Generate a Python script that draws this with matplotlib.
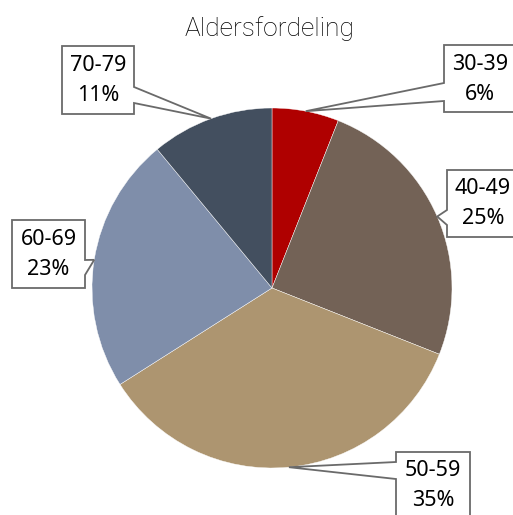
import numpy as np
import matplotlib.pyplot as plt
from matplotlib.patches import Polygon

categories = ["30-39", "40-49", "50-59", "60-69", "70-79"]
shares = [6, 25, 35, 23, 11]
colors = ["#af0000", "#736256", "#ad9570", "#7f8eaa", "#434f5f"]
title = "Aldersfordeling"

W, H = 513, 515
cx, cy, R = 272, 288, 180

# callout boxes in pixel coords: (x0, y0, x1, y1, side, base1, base2)
boxes = [
    (444, 45, 516, 112, "left", 83, 101),
    (447, 170, 519, 237, "left", 210, 225),
    (396, 452, 470, 519, "left", 462, 479),
    (12, 220, 85, 288, "right", 260, 275),
    (62, 46, 134, 114, "right", 87, 103),
]


def Y(py):
    return H - py


fig = plt.figure(figsize=(W / 100, H / 100), dpi=100)
ax = fig.add_axes([0, 0, 1, 1])

wedges, _ = ax.pie(shares, colors=colors, startangle=90, counterclock=False,
                   center=(cx, Y(cy)), radius=R,
                   wedgeprops=dict(edgecolor="white", linewidth=0.3))
ax.set_xlim(0, W)
ax.set_ylim(0, H)
ax.set_aspect("auto")
ax.axis("off")

for w, cat, val, (x0, y0, x1, y1, side, b1, b2) in zip(wedges, categories, shares, boxes):
    mid = np.deg2rad((w.theta1 + w.theta2) / 2)
    tip = (w.center[0] + w.r * np.cos(mid), w.center[1] + w.r * np.sin(mid))
    if side == "right":
        pts = [(x0, Y(y0)), (x1, Y(y0)), (x1, Y(b1)), tip, (x1, Y(b2)),
               (x1, Y(y1)), (x0, Y(y1))]
    else:
        pts = [(x0, Y(y0)), (x1, Y(y0)), (x1, Y(y1)), (x0, Y(y1)),
               (x0, Y(b2)), tip, (x0, Y(b1))]
    ax.add_patch(Polygon(pts, closed=True, facecolor="white",
                         edgecolor="#6a6a6a", linewidth=1.3, zorder=5))
    xc = (x0 + x1) / 2
    yc = (y0 + y1) / 2
    ax.text(xc, Y(yc - 14.5), cat, ha="center", va="center",
            fontsize=15.5, family="Noto Sans", color="black", zorder=6)
    ax.text(xc, Y(yc + 15.5), f"{val}%", ha="center", va="center",
            fontsize=15.5, family="Noto Sans", color="black", zorder=6)

ax.text(270, Y(29), title, ha="center", va="center", fontsize=19,
        family="Roboto", fontweight="light", color="black")

fig.savefig("out.png", dpi=100)
